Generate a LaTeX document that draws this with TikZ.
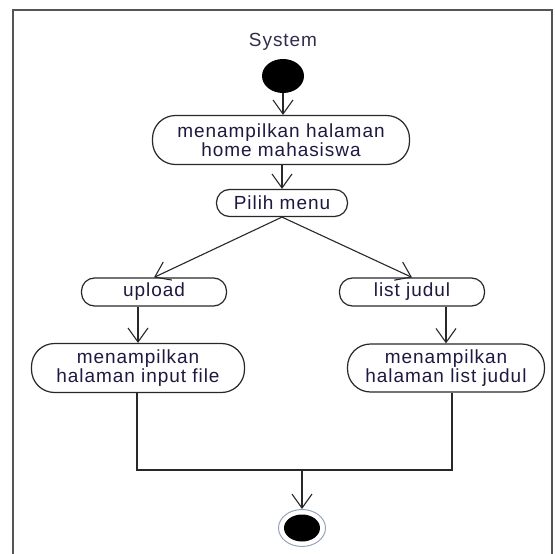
\documentclass[tikz,border=0pt]{standalone}
\usepackage{fontspec}
\setmainfont{Liberation Sans}[LetterSpace=5]
\usetikzlibrary{arrows.meta,shapes.geometric}
\definecolor{txt}{RGB}{32,24,64}
\definecolor{ln}{RGB}{40,40,40}
\definecolor{fr}{RGB}{85,85,85}
\definecolor{ring}{RGB}{150,165,185}
\begin{document}
\begin{tikzpicture}[x=1pt,y=-1pt,
  act/.style={draw=ln,line width=1.2pt,fill=white,inner sep=0pt,align=center,
    text=txt,font=\fontsize{19}{18.5}\selectfont},
  flow/.style={draw=ln,line width=1.1pt,-{Straight Barb[length=14pt,width=20pt]}},
  plain/.style={draw=ln,line width=1.1pt}]
\useasboundingbox (0,0) rectangle (555,554);
\fill[white] (0,0) rectangle (555,554);
\draw[fr,line width=1.8pt] (13,554) -- (13,10) -- (552,10) -- (552,554);
\node[text=txt!80!gray,font=\fontsize{19}{19}\selectfont] (sys) at (283,42) {System};
\node[ellipse,fill=black,minimum width=42pt,minimum height=34pt,inner sep=0pt] (start) at (283,76) {};
\node[act,minimum width=257pt,minimum height=49pt,rounded corners=23pt] (home) at (281,140) {menampilkan halaman\\home mahasiswa};
\node[act,minimum width=131pt,minimum height=27pt,rounded corners=13pt] (menu) at (282,203) {Pilih menu};
\node[act,minimum width=145pt,minimum height=28pt,rounded corners=13pt] (upload) at (154,292) {upload};
\node[act,minimum width=145pt,minimum height=28pt,rounded corners=13pt] (list) at (412,292) {list judul};
\node[act,minimum width=213pt,minimum height=49pt,rounded corners=23pt] (input) at (138,368) {menampilkan\\halaman input file};
\node[act,minimum width=197pt,minimum height=48pt,rounded corners=23pt] (listpage) at (446,368) {menampilkan\\halaman list judul};
\node[ellipse,draw=ring,line width=1pt,fill=white,minimum width=47pt,minimum height=37pt,inner sep=0pt] (end) at (302,528) {};
\node[ellipse,fill=black,minimum width=36pt,minimum height=27pt,inner sep=0pt] (endin) at (302,528) {};
\coordinate (jl) at (137,470);
\coordinate (jr) at (452,470);
\coordinate (jm) at (302,470);
\draw[flow] (start.south) -- (home.north -| start.south);
\draw[flow] (home.south -| menu.north) -- (menu.north);
\draw[flow] (menu.south) -- (upload.north);
\draw[flow] (menu.south) -- (list.north);
\draw[flow] (upload.south -| input.north) -- (input.north);
\draw[flow] (list.south -| listpage.north) -- (listpage.north);
\draw[plain] (input.south -| jl) -- (jl) -- (jr) -- (listpage.south -| jr);
\draw[flow] (jm) -- (end.north);
\end{tikzpicture}
\end{document}
